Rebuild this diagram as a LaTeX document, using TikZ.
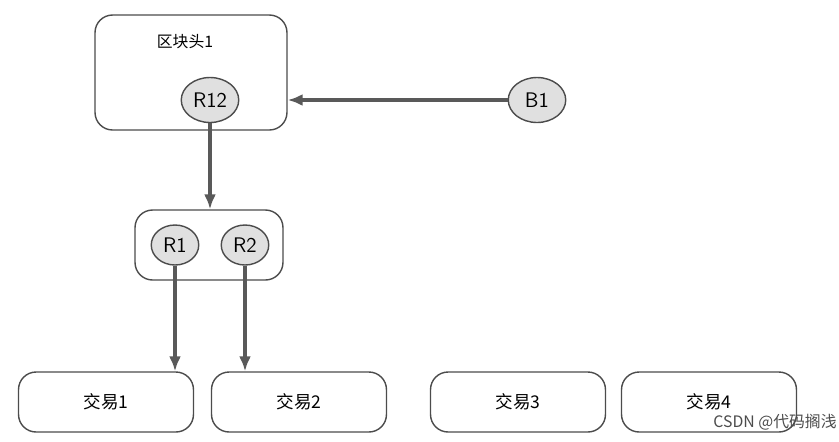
\documentclass[tikz,border=0pt]{standalone}
\usepackage{fontspec}
\setmainfont{Liberation Serif}
\newfontfamily\cjk{Noto Sans CJK SC}
\usetikzlibrary{positioning, shapes.geometric, arrows.meta}
\begin{document}
\begin{tikzpicture}[x=0.02cm, y=-0.02cm,
      link/.style={-{Latex[length=3mm,width=2.4mm]}, draw=black!65, line width=2pt},
      box/.style={draw=black!70, thick, rounded corners=10pt, fill=white},
      root/.style={ellipse, draw=black!70, thick, fill=black!12, minimum width=1.15cm,
        minimum height=0.9cm, inner sep=0pt, font=\sffamily\large},
      tx/.style={box, minimum width=3.5cm, minimum height=1.2cm, font=\cjk}]
      \useasboundingbox (0,0) rectangle (839,441);
      % block header
      \node[box, minimum width=3.84cm, minimum height=2.3cm] (head) at(191,72.5) {};
      \node[font=\cjk\small] (title) at(185,42) {区块头1};
      \node[root] (r12) at(210,100) {R12};
      \node[root] (b1) at(537,100) {B1};
      \draw[link] (b1) -- (head.east |- b1);
      % merkle level
      \node[box, minimum width=2.96cm, minimum height=1.4cm] (level) at(209,245) {};
      \node[root, minimum width=0.95cm, minimum height=0.8cm] (r1) at(175,245) {R1};
      \node[root, minimum width=0.95cm, minimum height=0.8cm] (r2) at(245,245) {R2};
      \draw[link] (r12) -- (level.north -| r12);
      % transactions
      \node[tx] (t1) at(106,402) {交易1};
      \node[tx] (t2) at(299,402) {交易2};
      \node[tx] (t3) at(518,402) {交易3};
      \node[tx] (t4) at(709,402) {交易4};
      \draw[link] (r1) -- (t1.north -| r1);
      \draw[link] (r2) -- (t2.north -| r2);
      % watermark
      \node[font=\cjk\small, text=black!70] (mark) at(775,422) {CSDN @代码搁浅};
\end{tikzpicture}
\end{document}
